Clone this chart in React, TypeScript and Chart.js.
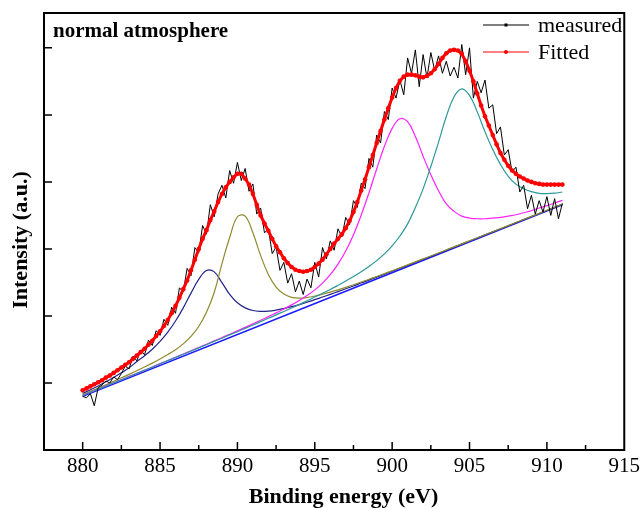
import React, { useEffect, useRef } from "react";
import { Chart, registerables } from "chart.js";

Chart.register(...registerables);

// ---- data (binding energy in eV, intensity in arbitrary units) ----
const measuredStart = 880;
const measuredStep = 0.25;
const measuredIntensity = [
  0.80, 0.78, 0.84, 0.66,
  0.93, 0.97, 1.03, 1.00,
  1.09, 1.05, 1.14, 1.25,
  1.21, 1.40, 1.33, 1.49,
  1.42, 1.64, 1.56, 1.78,
  1.71, 1.95, 1.86, 2.13,
  2.04, 2.42, 2.36, 2.71,
  2.60, 3.02, 2.94, 3.35,
  3.22, 3.66, 3.48, 3.82,
  3.95, 3.76, 4.17, 3.98,
  4.29, 4.02, 4.20, 3.86,
  3.97, 3.52, 3.61, 3.24,
  3.30, 2.93, 3.03, 2.68,
  2.80, 2.49, 2.63, 2.36,
  2.52, 2.32, 2.55, 2.42,
  2.80, 2.58, 3.02, 2.85,
  3.12, 2.98, 3.30, 3.18,
  3.47, 3.36, 3.72, 3.62,
  3.98, 3.90, 4.35, 4.22,
  4.70, 4.58, 5.05, 4.93,
  5.40, 5.25, 5.52, 5.30,
  5.85, 5.62, 5.97, 5.42,
  5.90, 5.55, 5.93, 5.66,
  5.88, 5.62, 5.80, 5.58,
  5.71, 5.55, 6.05, 5.60,
  6.00, 5.25, 5.50, 5.33,
  5.52, 5.10, 5.15, 4.72,
  4.82, 4.40, 4.48, 4.15,
  4.22, 3.85, 3.95, 3.60,
  3.80, 3.52, 3.72, 3.55,
  3.78, 3.50, 3.75, 3.45,
  3.68,
];

const fittedIntensity = [
  0.89, 0.92, 0.95, 0.98,
  1.01, 1.04, 1.08, 1.11,
  1.15, 1.19, 1.23, 1.27,
  1.31, 1.36, 1.41, 1.46,
  1.51, 1.57, 1.63, 1.70,
  1.77, 1.85, 1.94, 2.04,
  2.15, 2.27, 2.40, 2.53,
  2.68, 2.84, 3.00, 3.15,
  3.28, 3.43, 3.56, 3.70,
  3.82, 3.92, 4.00, 4.07,
  4.12, 4.12, 4.05, 3.96,
  3.82, 3.66, 3.50, 3.38,
  3.27, 3.15, 3.04, 2.95,
  2.86, 2.79, 2.73, 2.69,
  2.67, 2.66, 2.67, 2.69,
  2.73, 2.78, 2.84, 2.92,
  3.00, 3.08, 3.15, 3.22,
  3.31, 3.42, 3.55, 3.70,
  3.87, 4.04, 4.22, 4.40,
  4.58, 4.76, 4.93, 5.10,
  5.26, 5.40, 5.51, 5.57,
  5.60, 5.60, 5.59, 5.57,
  5.56, 5.58, 5.62, 5.68,
  5.76, 5.85, 5.92, 5.96,
  5.97, 5.96, 5.91, 5.80,
  5.66, 5.50, 5.32, 5.14,
  4.98, 4.84, 4.70, 4.56,
  4.43, 4.33, 4.24, 4.17,
  4.12, 4.08, 4.05, 4.02,
  4.00, 3.98, 3.97, 3.96,
  3.96, 3.96, 3.96, 3.96,
  3.96,
];

const componentStart = 880;
const componentStep = 0.5;
const peakNavy = [
  0.843, 0.899, 0.956, 1.017, 1.082, 1.151, 1.226, 1.320, 1.406, 1.504,
  1.620, 1.758, 1.924, 2.121, 2.341, 2.546, 2.677, 2.658, 2.497, 2.323,
  2.196, 2.120, 2.081, 2.069, 2.072, 2.087, 2.110, 2.138, 2.170, 2.205,
  2.243, 2.282, 2.322, 2.363, 2.405, 2.447, 2.491, 2.534, 2.578, 2.622,
  2.666, 2.711, 2.755, 2.801, 2.846, 2.891, 2.936, 2.981, 3.026, 3.073,
  3.118, 3.163, 3.209, 3.254, 3.300, 3.345, 3.392, 3.437, 3.483, 3.528,
  3.574, 3.620, 3.666,
];
const peakOlive = [
  0.826, 0.875, 0.924, 0.974, 1.025, 1.077, 1.129, 1.183, 1.238, 1.296,
  1.358, 1.425, 1.497, 1.584, 1.694, 1.842, 2.054, 2.350, 2.780, 3.170,
  3.480, 3.490, 3.240, 2.900, 2.620, 2.431, 2.326, 2.278, 2.266, 2.275,
  2.296, 2.324, 2.355, 2.390, 2.427, 2.466, 2.507, 2.547, 2.589, 2.632,
  2.675, 2.718, 2.762, 2.807, 2.851, 2.895, 2.940, 2.985, 3.030, 3.076,
  3.121, 3.166, 3.211, 3.257, 3.302, 3.348, 3.394, 3.440, 3.485, 3.531,
  3.577, 3.622, 3.669,
];
const peakMagenta = [
  0.815, 0.862, 0.909, 0.956, 1.004, 1.051, 1.098, 1.145, 1.192, 1.239,
  1.288, 1.336, 1.384, 1.432, 1.480, 1.529, 1.578, 1.628, 1.678, 1.728,
  1.778, 1.830, 1.882, 1.936, 1.990, 2.046, 2.103, 2.165, 2.232, 2.304,
  2.389, 2.490, 2.615, 2.773, 2.968, 3.212, 3.506, 3.836, 4.192, 4.531,
  4.799, 4.942, 4.898, 4.678, 4.383, 4.108, 3.867, 3.671, 3.560, 3.490,
  3.460, 3.450, 3.450, 3.460, 3.470, 3.490, 3.510, 3.540, 3.570, 3.610,
  3.645, 3.685, 3.725,
];
const peakTeal = [
  0.815, 0.862, 0.908, 0.955, 1.003, 1.049, 1.096, 1.143, 1.190, 1.237,
  1.286, 1.333, 1.380, 1.428, 1.475, 1.523, 1.571, 1.620, 1.668, 1.717,
  1.765, 1.814, 1.864, 1.915, 1.965, 2.016, 2.067, 2.119, 2.172, 2.226,
  2.282, 2.338, 2.396, 2.457, 2.520, 2.587, 2.660, 2.738, 2.825, 2.926,
  3.046, 3.193, 3.374, 3.618, 3.896, 4.230, 4.594, 4.975, 5.271, 5.389,
  5.290, 5.045, 4.749, 4.484, 4.261, 4.083, 3.967, 3.898, 3.854, 3.828,
  3.825, 3.832, 3.849,
];
const baselineEnergy = [880, 911];
const baselineIntensity = [0.80, 3.66];

const xTickLabels = ["880", "885", "890", "895", "900", "905", "910", "915"];

const toPoints = (start: number, step: number, ys: number[]) =>
  ys.map((y, i) => ({ x: start + step * i, y }));

const FONT = '"Liberation Serif", "Times New Roman", serif';

const decorPlugin = {
  id: "decor",
  afterDraw(chart: any) {
    const { ctx, chartArea: a, scales } = chart;
    const xs = scales.x;
    const ys = scales.y;
    ctx.save();
    ctx.strokeStyle = "#000";
    ctx.lineWidth = 2;
    ctx.strokeRect(a.left, a.top, a.right - a.left, a.bottom - a.top);
    // inward ticks
    ctx.lineWidth = 1.5;
    ctx.beginPath();
    xs.ticks.forEach((t: any) => {
      const v = t.value;
      if (v > xs.min && v < xs.max) {
        const px = xs.getPixelForValue(v);
        ctx.moveTo(px, a.bottom);
        ctx.lineTo(px, a.bottom - 8);
      }
      const mv = v + 2.5;
      if (mv > xs.min && mv < xs.max) {
        const pm = xs.getPixelForValue(mv);
        ctx.moveTo(pm, a.bottom);
        ctx.lineTo(pm, a.bottom - 5);
      }
    });
    ys.ticks.forEach((t: any) => {
      const v = t.value;
      if (v > ys.min && v < ys.max) {
        const py = ys.getPixelForValue(v);
        ctx.moveTo(a.left, py);
        ctx.lineTo(a.left + 8, py);
      }
    });
    ctx.stroke();

    ctx.fillStyle = "#000";
    // annotation
    ctx.font = `bold 21px ${FONT}`;
    ctx.textAlign = "left";
    ctx.textBaseline = "alphabetic";
    ctx.fillText("normal atmosphere", 53, 37);

    // legend
    const lx0 = 483, lx1 = 529;
    ctx.lineWidth = 1;
    ctx.strokeStyle = "#000";
    ctx.beginPath();
    ctx.moveTo(lx0, 25);
    ctx.lineTo(lx1, 25);
    ctx.stroke();
    ctx.fillRect((lx0 + lx1) / 2 - 1.5, 25 - 1.5, 3, 3);
    ctx.strokeStyle = "#ff0000";
    ctx.beginPath();
    ctx.moveTo(lx0, 52);
    ctx.lineTo(lx1, 52);
    ctx.stroke();
    ctx.fillStyle = "#ff0000";
    ctx.beginPath();
    ctx.arc((lx0 + lx1) / 2, 52, 2, 0, Math.PI * 2);
    ctx.fill();
    ctx.fillStyle = "#000";
    ctx.font = `22px ${FONT}`;
    ctx.fillText("measured", 538, 32);
    ctx.fillText("Fitted", 538, 59);

    // axis titles
    ctx.font = `bold 22px ${FONT}`;
    ctx.textAlign = "center";
    ctx.fillText("Binding energy (eV)", 343.5, 503);
    ctx.save();
    ctx.translate(27, 240);
    ctx.rotate(-Math.PI / 2);
    ctx.fillText("Intensity (a.u.)", 0, 0);
    ctx.restore();
    ctx.restore();
  },
};

export default function App() {
  const ref = useRef<HTMLCanvasElement | null>(null);
  useEffect(() => {
    if (!ref.current) return;
    const line = (label: string, color: string, data: any[], order: number, width = 1.2) => ({
      label,
      data,
      borderColor: color,
      backgroundColor: color,
      borderWidth: width,
      pointRadius: 0,
      fill: false,
      order,
      tension: 0.4,
    });
    const chart = new Chart(ref.current, {
      type: "line",
      data: {
        datasets: [
          {
            label: "Fitted",
            data: toPoints(measuredStart, measuredStep, fittedIntensity),
            borderColor: "#ff0000",
            backgroundColor: "#ff0000",
            borderWidth: 3,
            pointRadius: 2.3,
            pointBorderWidth: 0,
            pointStyle: "circle",
            tension: 0,
            order: 0,
          },
          {
            label: "measured",
            data: toPoints(measuredStart, measuredStep, measuredIntensity),
            borderColor: "#000000",
            borderWidth: 1,
            pointRadius: 0,
            tension: 0,
            order: 1,
          },
          line("peak 4", "#2a9898", toPoints(componentStart, componentStep, peakTeal), 2),
          line("peak 3", "#ff22ff", toPoints(componentStart, componentStep, peakMagenta), 3),
          line("peak 2", "#8f8a2e", toPoints(componentStart, componentStep, peakOlive), 4),
          line("peak 1", "#22228a", toPoints(componentStart, componentStep, peakNavy), 5),
          line(
            "background",
            "#1a1aff",
            baselineEnergy.map((x, i) => ({ x, y: baselineIntensity[i] })),
            6,
            1.5
          ),
        ],
      },
      options: {
        responsive: false,
        animation: false,
        devicePixelRatio: 1,
        layout: { padding: { left: 0, right: 11, top: 13, bottom: 0 }, autoPadding: false },
        plugins: { legend: { display: false }, tooltip: { enabled: false } },
        scales: {
          x: {
            type: "linear",
            min: 877.5,
            max: 915,
            afterFit: (s: any) => {
              s.height = 58;
            },
            grid: { display: false, drawTicks: false },
            border: { display: false },
            ticks: {
              stepSize: 5,
              includeBounds: false,
              autoSkip: false,
              maxRotation: 0,
              padding: 4,
              color: "#000",
              font: { family: FONT, size: 21 },
              callback: (v: any) => {
                const s = String(v);
                return xTickLabels.includes(s) ? s : "";
              },
            },
          },
          y: {
            type: "linear",
            min: 0,
            max: 6.52,
            afterFit: (s: any) => {
              s.width = 44;
            },
            grid: { display: false, drawTicks: false },
            border: { display: false },
            ticks: { display: false, stepSize: 1, includeBounds: false },
          },
        },
      },
      plugins: [decorPlugin],
    } as any);
    return () => chart.destroy();
  }, []);
  return (
    <div style={{ position: "absolute", left: 0, top: 0, width: 644, height: 508, background: "#fff" }}>
      <canvas ref={ref} width={644} height={508} style={{ display: "block" }} />
    </div>
  );
}
